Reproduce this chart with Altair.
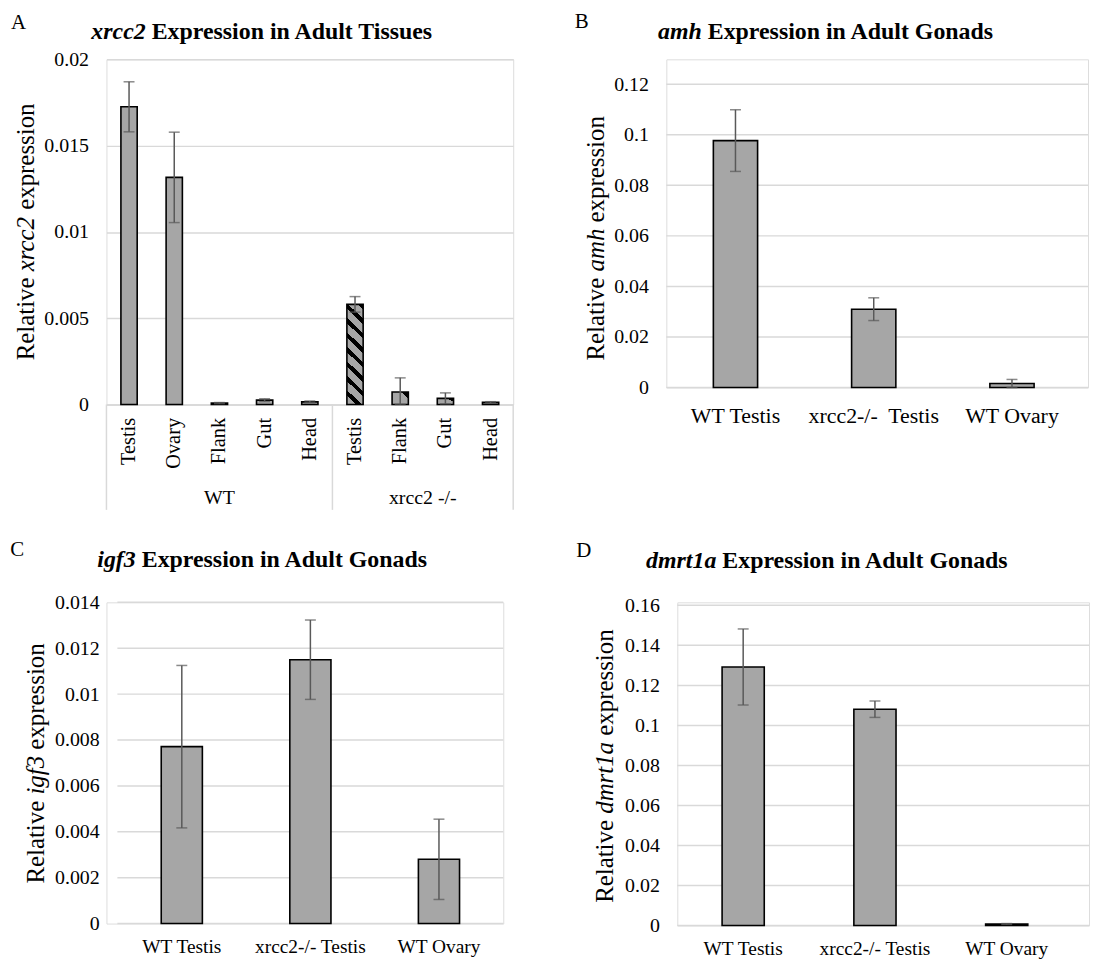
import altair as alt
import pandas as pd

FONT = "Liberation Serif"
BAR = "#a6a6a6"
GRID = "#d9d9d9"
ERRC = "#595959"

# ---------------- data ----------------
a_tissues = ["Testis", "Ovary", "Flank", "Gut", "Head", "Testis", "Flank", "Gut", "Head"]
a_genotypes = ["WT", "WT", "WT", "WT", "WT", "xrcc2 -/-", "xrcc2 -/-", "xrcc2 -/-", "xrcc2 -/-"]
a_values = [0.01725, 0.01316, 0.00008, 0.00025, 0.00015, 0.0058, 0.00072, 0.00035, 0.00012]
a_errors = [0.00145, 0.00262, 0.00003, 0.00008, 0.00005, 0.00045, 0.00082, 0.00032, 0.00004]
a_ticks = [0, 0.005, 0.01, 0.015, 0.02]

b_samples = ["WT Testis", "xrcc2-/-\u00a0 Testis", "WT Ovary"]
b_values = [0.0977, 0.031, 0.0016]
b_errors = [0.0122, 0.0045, 0.0016]
b_ticks = [0, 0.02, 0.04, 0.06, 0.08, 0.1, 0.12]

c_samples = ["WT Testis", "xrcc2-/- Testis", "WT Ovary"]
c_values = [0.00771, 0.0115, 0.0028]
c_errors = [0.00354, 0.00173, 0.00175]
c_ticks = [0, 0.002, 0.004, 0.006, 0.008, 0.01, 0.012, 0.014]

d_samples = ["WT Testis", "xrcc2-/- Testis", "WT Ovary"]
d_values = [0.1292, 0.1081, 0.0008]
d_errors = [0.0190, 0.0041, 0.0002]
d_ticks = [0, 0.02, 0.04, 0.06, 0.08, 0.1, 0.12, 0.14, 0.16]

# em widths (Times metrics) used to join mixed-style title pieces
GENE_EM_BI = {"xrcc2": 2.277, "amh": 1.834, "igf3": 1.611, "dmrt1a": 2.945}
GENE_EM_I = {"xrcc2": 2.221, "amh": 1.722, "igf3": 1.556, "dmrt1a": 2.889}
REST_EM = {"Expression in Adult Tissues": 11.864, "Expression in Adult Gonads": 12.031}
REL_EM, EXPR_EM, SP = 3.333, 4.277, 0.25

ONE = pd.DataFrame({"o": [0]})
LABEL_EXPR = "'' + datum.value"


def txt(text, x, y, size, weight="normal", style="normal", angle=0, align="left"):
    kw = dict(text=text, font=FONT, fontSize=size, fontWeight=weight, fontStyle=style,
              align=align, baseline="alphabetic", color="black")
    if angle:
        kw["angle"] = angle
    return alt.Chart(ONE).mark_text(**kw).encode(x=alt.value(x), y=alt.value(y))


def title_parts(gene, rest, cx, by, fs=24):
    ge = GENE_EM_BI[gene]
    total = (ge + SP + REST_EM[rest]) * fs
    left = cx - total / 2
    return [txt(gene, left, by, fs, "bold", "italic"),
            txt(rest, left + (ge + SP) * fs, by, fs, "bold")]


def ytitle_parts(gene, bx, cy, fs=25):
    ge = GENE_EM_I[gene]
    total = (REL_EM + SP + ge + SP + EXPR_EM) * fs
    bottom = cy + total / 2
    return [txt("Relative", bx, bottom, fs, angle=270),
            txt(gene, bx, bottom - (REL_EM + SP) * fs, fs, style="italic", angle=270),
            txt("expression", bx, bottom - (REL_EM + SP + ge + SP) * fs, fs, angle=270)]


def stripe_gradient(n, frac, x1, y1, x2, y2):
    stops = []
    for i in range(n):
        s, m, e = i / n, (i + frac) / n, (i + 1) / n
        stops += [alt.GradientStop(color="black", offset=s),
                  alt.GradientStop(color="black", offset=m),
                  alt.GradientStop(color=BAR, offset=m),
                  alt.GradientStop(color=BAR, offset=e)]
    return alt.LinearGradient(gradient="linear", stops=stops, x1=x1, y1=y1, x2=x2, y2=y2)


def yaxis(ticks, grid=True, pad=18):
    return alt.Axis(values=ticks, labelExpr=LABEL_EXPR, title=None, grid=grid, gridColor=GRID,
                    gridWidth=1.5, domain=False, ticks=False, labelFontSize=20,
                    labelPadding=pad, labelColor="black", labelFont=FONT)


# ---------------- panel A ----------------
a_keys = [f"{g}|{t}" for g, t in zip(a_genotypes, a_tissues)]
dfa = pd.DataFrame({"cat": a_keys, "tissue": a_tissues, "genotype": a_genotypes,
                    "value": a_values, "err": a_errors})
dfa["lo"] = (dfa["value"] - dfa["err"]).clip(lower=0)
dfa["hi"] = dfa["value"] + dfa["err"]

AW, AH = 409, 347
xa = alt.Scale(domain=a_keys, paddingInner=0, paddingOuter=0)
ya = alt.Scale(domain=[0, 0.02], nice=False)
xa_axis = alt.Axis(title=None, labelExpr="split(datum.label, '|')[1]", labelAngle=270,
                   labelFontSize=20.5, labelPadding=13, ticks=False, domainColor=GRID,
                   domainWidth=1.5, labelColor="black", labelFont=FONT, grid=False)
ya_axis = yaxis(a_ticks)


def XA(**kw):
    return alt.X("cat:N", scale=xa, axis=xa_axis, **kw)


def YA(field):
    return alt.Y(field, scale=ya, axis=ya_axis)


base_a = alt.Chart(dfa)
bars_wt = base_a.transform_filter("datum.genotype == 'WT'").mark_bar(
    fill=BAR, stroke="black", strokeWidth=1.6, width=alt.RelativeBandSize(0.36)
).encode(x=XA(), y=YA("value:Q"))
bars_ko_big = base_a.transform_filter("datum.genotype != 'WT' && datum.tissue == 'Testis'").mark_bar(
    fill=stripe_gradient(8, 0.38, 1, 0, 0.822, 1.13), stroke="black", strokeWidth=1.6,
    width=alt.RelativeBandSize(0.36)
).encode(x=XA(), y=YA("value:Q"))
bars_ko_small = base_a.transform_filter("datum.genotype != 'WT' && datum.tissue != 'Testis'").mark_bar(
    fill=stripe_gradient(1, 0.25, 1, 0, -0.11, 0.855), stroke="black", strokeWidth=1.6,
    width=alt.RelativeBandSize(0.36)
).encode(x=XA(), y=YA("value:Q"))
err_a = base_a.mark_rule(color=ERRC, strokeWidth=1.5).encode(
    x=XA(), y=YA("lo:Q"), y2="hi:Q")
caps_a = base_a.transform_fold(["lo", "hi"], as_=["which", "capv"]).mark_tick(
    color=ERRC, thickness=1.5, size=11
).encode(x=XA(), y=YA("capv:Q"))

# group box under the category axis
box_left = alt.Chart(pd.DataFrame({"cat": [a_keys[0], a_keys[5]]})).mark_rule(
    color=GRID, strokeWidth=1.5
).encode(x=XA(bandPosition=0), y=alt.value(AH), y2=alt.value(AH + 106))
box_right = alt.Chart(pd.DataFrame({"cat": [a_keys[8]]})).mark_rule(
    color=GRID, strokeWidth=1.5
).encode(x=XA(bandPosition=1), y=alt.value(AH), y2=alt.value(AH + 106))
grp_wt = alt.Chart(pd.DataFrame({"cat": [a_keys[2]], "g": [a_genotypes[0]]})).mark_text(
    font=FONT, fontSize=20, color="black", baseline="alphabetic"
).encode(x=XA(), y=alt.value(AH + 100), text="g:N")
grp_ko = alt.Chart(pd.DataFrame({"cat": [a_keys[7]], "g": [a_genotypes[5]]})).mark_text(
    font=FONT, fontSize=20, color="black", baseline="alphabetic"
).encode(x=XA(bandPosition=0), y=alt.value(AH + 100), text="g:N")

panel_a = alt.layer(
    bars_wt, bars_ko_big, bars_ko_small, err_a, caps_a, box_left, box_right, grp_wt, grp_ko,
    *title_parts("xrcc2", "Expression in Adult Tissues", 157.5, -20.5),
    *ytitle_parts("xrcc2", -73, 173.5),
    txt("A", -96, -31, 21),
).properties(width=AW, height=AH)


# ---------------- gonad panels ----------------
def gonad_panel(samples, values, errors, ticks, ymax, w, h, yrange, pad_outer, align,
                label_fs, label_pad, gene, letter, letter_xy, title_xy, ytitle_xy,
                grid_x0=0, ylab_pad=18):
    df = pd.DataFrame({"cat": samples, "value": values, "err": errors})
    df["lo"] = (df["value"] - df["err"]).clip(lower=0)
    df["hi"] = df["value"] + df["err"]
    xs = alt.Scale(domain=samples, paddingInner=0, paddingOuter=pad_outer, align=align)
    ys = alt.Scale(domain=[0, ymax], nice=False, range=yrange)
    xax = alt.Axis(title=None, labelAngle=0, ticks=False, domain=False,
                   labelFontSize=label_fs, labelPadding=label_pad, labelColor="black",
                   labelFont=FONT, grid=False)
    yax = yaxis(ticks, grid=False, pad=ylab_pad)

    def X():
        return alt.X("cat:N", scale=xs, axis=xax)

    def Y(field):
        return alt.Y(field, scale=ys, axis=yax)

    grid = alt.Chart(pd.DataFrame({"t": ticks})).mark_rule(color=GRID, strokeWidth=1.5).encode(
        y=Y("t:Q"), x=alt.value(grid_x0), x2=alt.value(w))
    base = alt.Chart(df)
    bars = base.mark_bar(fill=BAR, stroke="black", strokeWidth=1.6,
                         width=alt.RelativeBandSize(0.32)).encode(x=X(), y=Y("value:Q"))
    err = base.mark_rule(color=ERRC, strokeWidth=1.5).encode(x=X(), y=Y("lo:Q"), y2="hi:Q")
    caps = base.transform_fold(["lo", "hi"], as_=["which", "capv"]).mark_tick(
        color=ERRC, thickness=1.5, size=11
    ).encode(x=X(), y=Y("capv:Q"))
    return alt.layer(
        grid, bars, err, caps,
        *title_parts(gene, "Expression in Adult Gonads", *title_xy),
        *ytitle_parts(gene, *ytitle_xy),
        txt(letter, letter_xy[0], letter_xy[1], 21),
    ).properties(width=w, height=h)


panel_b = gonad_panel(b_samples, b_values, b_errors, b_ticks, 0.12, 424, 330, [330, 25],
                      0.025, 0, 22, 18, "amh", "B", (-92, -32), (161, -20.5), (-63, 180))
panel_c = gonad_panel(c_samples, c_values, c_errors, c_ticks, 0.014, 399, 323, [323, 0],
                      0.043, 1, 19.5, 14, "igf3", "C", (-96.7, -47), (157.5, -36), (-63, 162),
                      grid_x0=11, ylab_pad=7.3)
panel_d = gonad_panel(d_samples, d_values, d_errors, d_ticks, 0.16, 414, 325, [325, 3],
                      0.0623, 0, 19.5, 14, "dmrt1a", "D", (-101.7, -45.5), (151.3, -35),
                      (-65, 164.7))

row1 = alt.hconcat(panel_a, panel_b, spacing=59)
row2 = alt.hconcat(panel_c, panel_d, spacing=70)
chart = alt.vconcat(row1, row2, spacing=26).properties(
    padding={"left": 1, "top": -1, "right": 0, "bottom": 0}
).configure_view(strokeWidth=0, stroke="transparent").configure(font=FONT)

chart.save("out.html", embed_options={"renderer": "svg", "actions": False})
